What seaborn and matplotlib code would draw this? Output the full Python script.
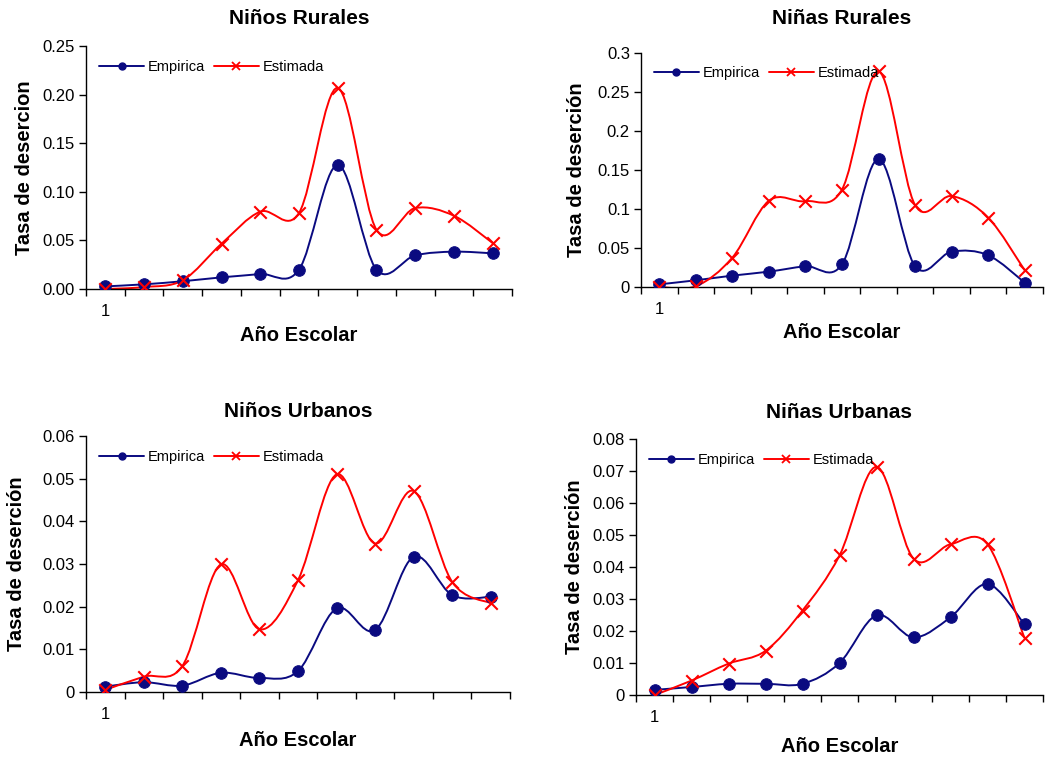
import numpy as np
import matplotlib
matplotlib.use("Agg")
import matplotlib.pyplot as plt
import seaborn as sns
from matplotlib.path import Path
from matplotlib.patches import PathPatch
from matplotlib.lines import Line2D
from matplotlib.ticker import FixedLocator, FormatStrFormatter, FuncFormatter

sns.set_style("white")
plt.rcParams['font.family'] = ['Liberation Sans', 'DejaVu Sans']
plt.rcParams['text.color'] = 'black'
plt.rcParams['xtick.color'] = 'black'
plt.rcParams['ytick.color'] = 'black'
plt.rcParams['axes.labelcolor'] = 'black'

grades = list(range(1, 12))

nr_emp = [0.0027, 0.0048, 0.008, 0.012, 0.0154, 0.0199, 0.1276, 0.0199, 0.0346, 0.0384, 0.0367]
nr_est = [0.0, 0.002, 0.009, 0.0466, 0.0796, 0.0782, 0.2068, 0.061, 0.0833, 0.0754, 0.0473]

fr_emp = [0.0034, 0.0086, 0.0146, 0.0197, 0.0266, 0.0291, 0.164, 0.0266, 0.0454, 0.0407, 0.0056]
fr_est = [0.0, 0.001, 0.0377, 0.1106, 0.110, 0.125, 0.2765, 0.105, 0.1166, 0.089, 0.0214]

nu_emp = [0.00125, 0.0023, 0.0015, 0.0045, 0.0033, 0.0049, 0.0196, 0.0145, 0.0317, 0.0227, 0.0223]
nu_est = [0.0005, 0.0036, 0.0061, 0.0299, 0.0147, 0.0262, 0.051, 0.0348, 0.0471, 0.0258, 0.0208]

fu_emp = [0.0016, 0.0025, 0.0035, 0.0035, 0.0035, 0.010, 0.0249, 0.018, 0.0243, 0.0347, 0.0221]
fu_est = [0.0, 0.0045, 0.0098, 0.0138, 0.0264, 0.0436, 0.0713, 0.0426, 0.0471, 0.0471, 0.0178]

titles = ["Niños Rurales", "Niñas Rurales", "Niños Urbanos", "Niñas Urbanas"]
ylabels = ["Tasa de desercion", "Tasa de deserción", "Tasa de deserción", "Tasa de deserción"]
ymaxes = [0.25, 0.3, 0.06, 0.08]
ysteps = [0.05, 0.05, 0.01, 0.01]
fmts = ["%.2f", None, None, None]

NAVY = "#0A0A80"
RED = "#FF0000"

W, H = 1060, 758
fig = plt.figure(figsize=(W / 100, H / 100), dpi=100)

# axes boxes in pixels: (left, top, right, bottom)
boxes = [(86, 46, 512, 289), (641, 53, 1043, 287), (86, 436, 510, 692), (636, 439, 1043, 695)]
title_y = [18, 18, 411, 413]
xlabel_y = [335, 333, 740, 746]
ylabel_x = [25, 577, 17, 574]

def smooth_path(xs, ys):
    p = np.column_stack([xs, ys]).astype(float)
    n = len(p)
    verts = [p[0]]
    codes = [Path.MOVETO]
    for i in range(n - 1):
        p0 = p[i - 1] if i > 0 else p[i]
        p1 = p[i]
        p2 = p[i + 1]
        p3 = p[i + 2] if i + 2 < n else p[i + 1]
        c1 = p1 + (p2 - p0) / 6.0
        c2 = p2 - (p3 - p1) / 6.0
        verts += [c1, c2, p2]
        codes += [Path.CURVE4] * 3
    return Path(verts, codes)

data = [(nr_emp, nr_est), (fr_emp, fr_est), (nu_emp, nu_est), (fu_emp, fu_est)]

for k in range(4):
    l, t, r, b = boxes[k]
    ax = fig.add_axes([l / W, 1 - b / H, (r - l) / W, (b - t) / H])
    emp, est = data[k]
    ax.add_patch(PathPatch(smooth_path(grades, emp), fill=False, edgecolor=NAVY, lw=1.4, zorder=2))
    ax.add_patch(PathPatch(smooth_path(grades, est), fill=False, edgecolor=RED, lw=1.4, zorder=2))
    sns.scatterplot(x=grades, y=emp, ax=ax, marker='o', s=70, color=NAVY, edgecolor=NAVY, zorder=3, legend=False)
    sns.scatterplot(x=grades, y=est, ax=ax, marker='x', s=80, color=RED, linewidth=1.5, zorder=3, legend=False)

    ax.set_xlim(0.5, 11.5)
    ax.set_ylim(0, ymaxes[k])
    ax.yaxis.set_major_locator(FixedLocator(np.round(np.arange(0, ymaxes[k] + 1e-9, ysteps[k]), 4)))
    if fmts[k]:
        ax.yaxis.set_major_formatter(FormatStrFormatter(fmts[k]))
    else:
        ax.yaxis.set_major_formatter(FuncFormatter(lambda v, p: ("%g" % round(v, 4))))
    ax.set_xticks(np.arange(0.5, 12, 1.0))
    ax.set_xticklabels([])
    ax.set_xticks([1], minor=True)
    ax.set_xticklabels(["1"], minor=True)
    ax.tick_params(axis='x', which='major', direction='out', length=5, width=1, color='black', bottom=True)
    ax.tick_params(axis='x', which='minor', length=0, labelsize=12, pad=11)
    ax.tick_params(axis='y', direction='out', length=5, width=1, color='black', left=True, labelsize=12, pad=3)
    for s in ['top', 'right']:
        ax.spines[s].set_visible(False)
    for s in ['left', 'bottom']:
        ax.spines[s].set_color('black')
        ax.spines[s].set_linewidth(1.0)
    ax.patch.set_alpha(0)

    cx = (l + r) / 2
    fig.text(cx / W, 1 - title_y[k] / H, titles[k], ha='center', va='center', fontsize=15, fontweight='bold')
    fig.text(cx / W, 1 - xlabel_y[k] / H, "Año Escolar", ha='center', va='center', fontsize=14.5, fontweight='bold')
    fig.text(ylabel_x[k] / W, 1 - ((t + b) / 2) / H, ylabels[k], ha='center', va='center', rotation=90, fontsize=14.5, fontweight='bold')

    handles = [Line2D([], [], color=NAVY, marker='o', markersize=5, lw=1.4),
               Line2D([], [], color=RED, marker='x', markersize=6, mew=1.3, lw=1.4)]
    ax.legend(handles, ["Empirica", "Estimada"], loc='upper left', ncol=2, frameon=False,
              fontsize=10.5, handlelength=3.1, columnspacing=0.6, handletextpad=0.25,
              bbox_to_anchor=(0.01, 0.98), borderaxespad=0.2)

fig.savefig("out.png", dpi=100)
